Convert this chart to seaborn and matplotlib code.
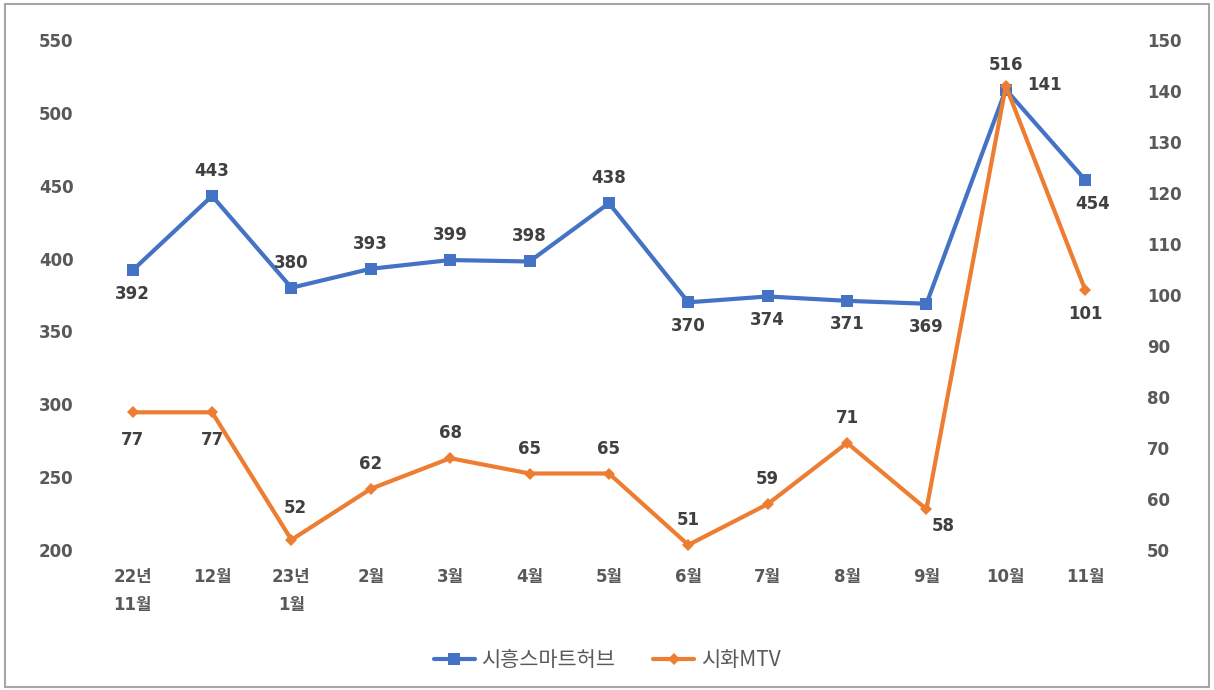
import pandas as pd
import matplotlib.pyplot as plt
import seaborn as sns
from matplotlib.patches import Rectangle

# -------------------------
# Data
# -------------------------
months = ["22년\n11월", "12월", "23년\n1월", "2월", "3월", "4월", "5월",
          "6월", "7월", "8월", "9월", "10월", "11월"]
siheung = [392, 443, 380, 393, 399, 398, 438, 370, 374, 371, 369, 516, 454]
sihwa = [77, 77, 52, 62, 68, 65, 65, 51, 59, 71, 58, 141, 101]

# label offsets (points) for each data label
UP, DN = 18, -17
siheung_off = [(0, DN), (0, UP), (0, UP), (0, UP), (0, UP), (0, UP), (0, UP),
               (0, DN), (0, DN), (0, DN), (0, DN), (0, UP), (5, DN)]
sihwa_off = [(0, -20), (0, -20), (3, 23), (0, UP), (0, UP), (0, UP), (0, UP),
             (0, UP), (0, UP), (0, UP), (12, -12), (28, 1), (0, DN)]

df = pd.DataFrame({"month": months, "x": range(len(months)),
                   "siheung": siheung, "sihwa": sihwa})

BLUE = "#4472C4"
ORANGE = "#ED7D31"
GREY = "#404040"
FONT = ["DejaVu Sans", "Noto Sans CJK KR"]

sns.set_style("white")
plt.rcParams["font.family"] = FONT

fig = plt.figure(figsize=(12.14, 6.9), dpi=100)
ax = fig.add_axes([0.0766, 0.2029, 0.85, 0.7391])
ax2 = ax.twinx()

sns.lineplot(data=df, x="x", y="siheung", ax=ax, color=BLUE, linewidth=3,
             marker="s", markersize=8, markeredgewidth=0, label="시흥스마트허브",
             legend=False)
sns.lineplot(data=df, x="x", y="sihwa", ax=ax2, color=ORANGE, linewidth=3,
             marker="D", markersize=6, markeredgewidth=0, label="시화MTV",
             legend=False)

ax.set_xlim(-0.5, len(months) - 0.5)
ax.set_ylim(200, 550)
ax2.set_ylim(50, 150)
ax.set_yticks(range(200, 551, 50))
ax2.set_yticks(range(50, 151, 10))
ax.set_xticks(range(len(months)))
ax.set_xticklabels(months, linespacing=1.7)
ax.set_xlabel("")
ax.set_ylabel("")
ax2.set_ylabel("")

for a in (ax, ax2):
    for s in a.spines.values():
        s.set_visible(False)
    a.tick_params(length=0, labelsize=12, labelcolor="#595959")
    for t in a.get_yticklabels() + a.get_xticklabels():
        t.set_fontweight("bold")
ax.tick_params(axis="y", pad=14)
ax2.tick_params(axis="y", pad=16)
ax.tick_params(axis="x", pad=13)

# data labels
for i, v in enumerate(siheung):
    ax.annotate(str(v), (i, v), xytext=siheung_off[i], textcoords="offset points",
                ha="center", va="center", fontsize=12, fontweight="bold", color=GREY)
for i, v in enumerate(sihwa):
    ax2.annotate(str(v), (i, v), xytext=sihwa_off[i], textcoords="offset points",
                 ha="center", va="center", fontsize=12, fontweight="bold", color=GREY)

# legend
h1, l1 = ax.get_legend_handles_labels()
h2, l2 = ax2.get_legend_handles_labels()
fig.legend(h1 + h2, l1 + l2, loc="center", bbox_to_anchor=(0.5, 0.043), ncol=2,
           frameon=False, prop={"family": ["Noto Sans CJK KR"], "size": 15},
           labelcolor="#595959", handlelength=2.0, handletextpad=0.3,
           columnspacing=1.8)

fig.patches.append(Rectangle((0.004, 0.004), 0.992, 0.99, transform=fig.transFigure,
                             fill=False, edgecolor="#A6A6A6", linewidth=1.5))

plt.savefig("out.png", dpi=100)
